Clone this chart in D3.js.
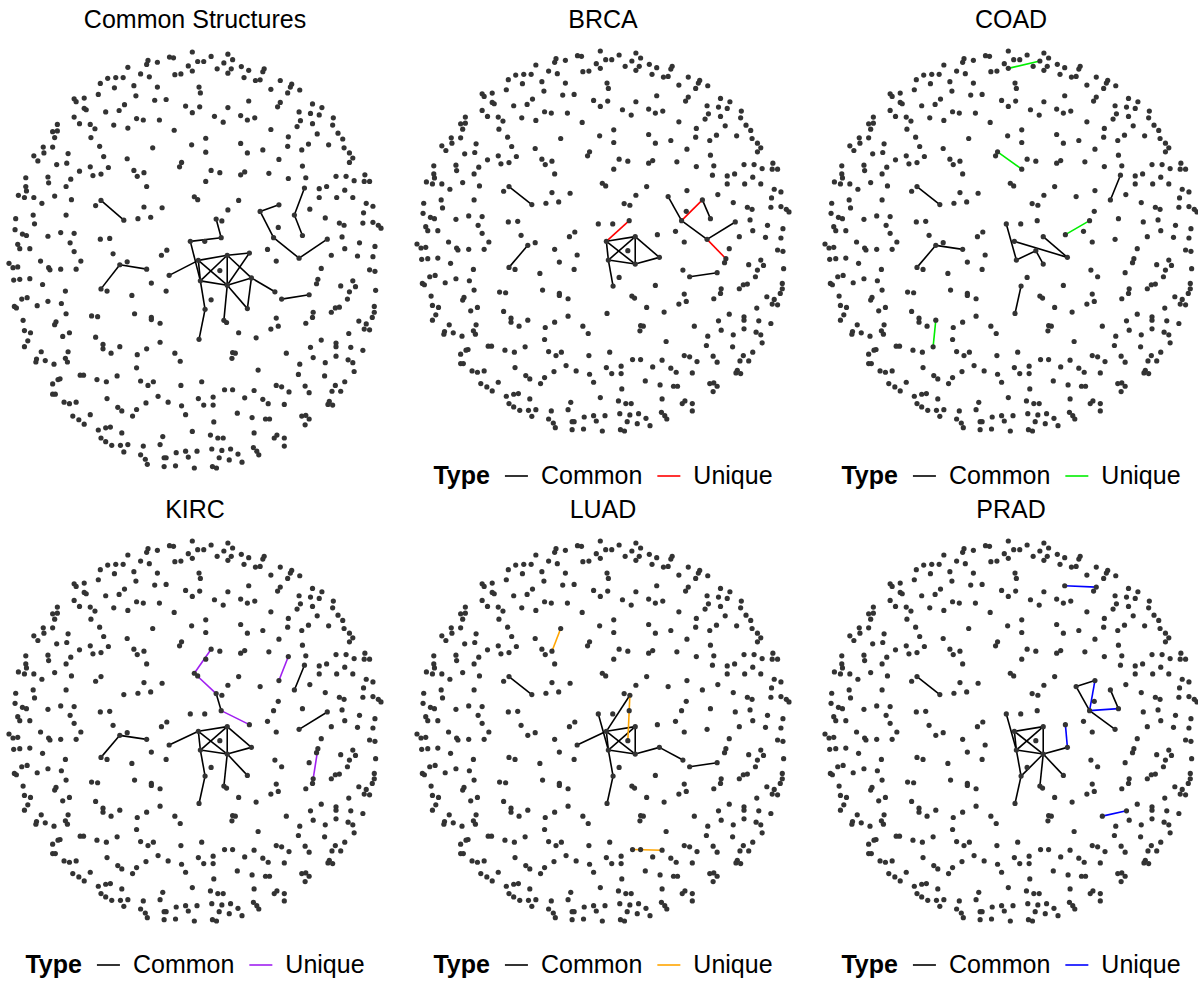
<!DOCTYPE html>
<html>
<head>
<meta charset="utf-8">
<script src="https://cdn.jsdelivr.net/npm/d3@7"></script>
<style>
  body { margin: 0; background: #fff; }
  text { font-family: "Liberation Sans", Arial, sans-serif; fill: #000; }
  .title { font-size: 25px; text-anchor: middle; }
  .legTitle { font-size: 25px; font-weight: bold; }
  .legText { font-size: 25px; }
</style>
</head>
<body>
<div id="chart"></div>
<script>
const width = 1198;
const height = 982;

// layout coordinates of every node (same layout in all panels)
const nodes = [
  [663,491],[680,496],[586,552],[629,552],[678,542],[610,604],[696,590],[762,584],[674,632],[616,660],
  [696,672],[768,652],[523,645],[630,738],[756,736],[612,820],[838,690],[858,710],[940,698],[686,768],
  [694,774],[850,452],[794,470],[834,542],[910,598],[994,546],[926,406],[896,480],[920,536],[848,514],
  [320,440],[388,494],[376,616],[320,682],[456,628],[592,86],[686,64],[560,336],[632,388],[376,840],
  [368,920],[760,168],[854,172],[872,858],[944,842],[966,656],
  [592,34],[524,48],[536,50],[460,57],[488,62],[626,60],[648,46],[698,40],[712,55],[456,68],[580,72],[608,60],
  [666,80],[708,80],[698,92],[738,74],[760,84],[806,80],[802,88],[400,76],[438,94],[464,102],[540,96],[558,94],
  [364,104],[340,106],[386,104],[318,120],[360,132],[418,126],[488,130],[746,104],[780,112],[794,110],[826,136],
  [854,112],[888,122],[884,130],[912,138],[876,146],[612,130],[616,146],[312,150],[424,154],[270,160],[240,162],
  [246,170],[480,166],[514,164],[846,184],[950,176],[978,186],[390,178],[572,182],[614,184],[592,200],[698,186],
  [270,188],[276,192],[334,198],[374,194],[240,212],[256,230],[288,232],[302,244],[358,234],[400,242],[426,216],
  [446,220],[494,220],[538,248],[658,210],[684,226],[736,208],[756,220],[778,214],[910,198],[944,202],[970,206],
  [1012,214],[904,238],[914,222],[950,230],[1010,234],[826,246],[190,232],[176,252],[190,250],[182,268],[964,258],
  [1026,256],[878,266],[876,292],[290,268],[632,270],[590,288],[474,296],[736,284],[802,302],[938,286],[918,302],
  [998,288],[1040,272],[1044,296],[1060,310],[1070,324],[1060,336],[148,294],[176,294],[222,312],[120,318],[150,310],
  [132,332],[188,342],[218,338],[316,292],[328,320],[288,348],[342,350],[320,368],[296,372],[256,360],[398,326],
  [418,358],[428,374],[448,364],[456,402],[554,348],[632,308],[756,310],[850,328],[920,346],[930,378],[648,358],
  [674,364],[736,370],[748,362],[820,366],[878,380],[1020,374],[1050,374],[1074,386],[1106,370],[1104,388],[1120,388],
  [96,378],[162,376],[164,392],[230,382],[216,402],[96,402],[98,414],[74,426],[92,432],[120,432],[182,428],[144,448],
  [232,438],[970,408],[992,402],[1046,412],[1070,432],[1022,432],[970,432],[1110,448],[1130,456],[304,454],[448,458],
  [502,460],[468,486],[430,490],[598,430],[608,438],[730,440],[698,466],[942,464],[988,488],[1030,502],[1044,508],
  [1102,474],[1100,502],[1130,500],[1146,508],[1154,516],[216,480],[66,490],[118,480],[122,504],[64,520],[86,532],
  [98,536],[162,538],[200,528],[240,530],[228,556],[72,560],[78,572],[108,572],[240,580],[318,546],[346,544],
  [356,586],[500,590],[516,576],[398,608],[470,666],[514,688],[412,700],[338,688],[816,574],[842,606],[1038,540],
  [1046,572],[1084,592],[1090,556],[1136,566],[1130,594],[1120,630],[1136,634],[976,626],[962,668],[1006,590],
  [1034,674],[1070,660],[1078,676],[1060,690],[1138,686],[1054,710],[1134,730],[1134,746],[1128,760],[1018,734],
  [1006,746],[1030,732],[952,746],[950,760],[930,776],[1088,770],[1110,778],[1104,792],[1120,794],[1058,804],
  [46,612],[58,624],[72,622],[140,606],[164,624],[168,630],[200,628],[246,628],[260,606],[60,658],[78,656],
  [108,654],[146,670],[214,688],[100,706],[84,710],[62,730],[68,734],[130,728],[162,716],[202,722],[216,750],
  [88,768],[186,772],[182,780],[92,796],[110,802],[206,812],[226,802],[102,824],[92,840],[142,854],[128,874],
  [126,882],[154,878],[180,888],[222,854],[214,872],[220,882],[292,756],[310,758],[304,814],[326,834],[326,846],
  [350,858],[420,750],[470,760],[470,766],[496,776],[496,828],[456,846],[428,862],[426,898],[540,858],[556,880],
  [648,712],[730,802],[782,816],[712,856],[720,858],[710,872],[842,762],[848,784],[826,792],[788,904],[912,888],
  [908,916],[952,870],[976,822],[988,884],[986,920],[1020,830],[1020,840],[1020,866],[1064,842],[1100,850],
  [1056,876],[1070,884],[1074,908],[258,918],[268,918],[308,930],[336,936],[438,934],[460,946],[476,936],[198,928],
  [192,930],[176,942],[176,970],[184,970],[210,992],[226,996],[246,992],[236,1030],[254,1040],[270,1052],[288,1026],
  [338,982],[370,1006],[382,1016],[414,1030],[426,1012],[454,994],[490,976],[520,992],[558,946],[620,936],[560,1002],
  [572,1026],[610,982],[626,1000],[654,978],[654,1000],[688,958],[712,958],[726,1022],[656,1046],[748,980],[770,1034],
  [776,960],[802,984],[818,996],[810,1038],[822,1038],[842,946],[858,950],[880,964],[866,998],[918,1030],[930,1028],
  [940,1038],[928,1054],[928,948],[940,966],[1000,990],[996,998],[1010,1000],[1018,946],[1008,962],[1034,962],
  [1046,936],[312,1068],[334,1062],[348,1060],[320,1090],[334,1100],[352,1110],[382,1076],[378,1110],[400,1108],
  [388,1128],[438,1136],[446,1112],[452,1148],[458,1162],[496,1108],[504,1086],[508,1144],[514,1144],[508,1168],
  [544,1130],[572,1126],[580,1142],[606,1126],[598,1172],[592,1072],[646,1082],[668,1090],[684,1090],[650,1120],
  [680,1124],[652,1168],[664,1172],[672,1144],[706,1120],[702,1150],[728,1134],[740,1156],[774,1116],[776,1076],
  [784,1126],[790,1136],[836,1090],[844,1082],[866,1090],[866,1112],[542,1166]
];

// edges, given by the layout coordinates of their two end nodes
const commonEdges = [
  [[663,491],[678,542]],[[586,552],[678,542]],[[586,552],[616,660]],[[610,604],[696,590]],[[696,590],[762,584]],
  [[610,604],[616,660]],[[610,604],[696,672]],[[696,590],[696,672]],[[696,590],[616,660]],[[762,584],[696,672]],
  [[696,590],[768,652]],[[616,660],[696,672]],[[696,672],[768,652]],[[523,645],[610,604]],[[696,672],[686,768]],
  [[616,660],[630,738]],[[630,738],[612,820]],[[696,672],[756,736]],[[768,652],[756,736]],[[768,652],[838,690]],
  [[858,710],[940,698]],[[850,452],[794,470]],[[794,470],[834,542]],[[834,542],[910,598]],[[910,598],[994,546]],
  [[926,406],[896,480]],[[896,480],[920,536]],[[320,440],[388,494]],[[376,616],[320,682]],[[376,616],[456,628]]
];
const brcaCommon = [
  [[320,440],[388,494]],[[376,616],[320,682]],[[610,604],[696,590]],[[610,604],[616,660]],[[696,590],[696,672]],
  [[616,660],[696,672]],[[610,604],[696,672]],[[696,590],[616,660]],[[696,590],[768,652]],[[696,672],[768,652]],
  [[616,660],[630,738]],[[794,470],[834,542]],[[834,542],[910,598]],[[896,480],[920,536]],[[910,598],[994,546]],
  [[858,710],[940,698]]
];
const brcaUnique = [[[610,604],[678,542]],[[834,542],[896,480]],[[910,598],[966,656]]];
const coadCommon = [
  [[320,440],[388,494]],[[376,616],[320,682]],[[376,616],[456,628]],[[586,552],[616,660]],[[610,604],[768,652]],
  [[616,660],[674,632]],[[674,632],[696,672]],[[696,590],[768,652]],[[630,738],[612,820]],[[926,406],[896,480]]
];
const coadUnique = [[[592,86],[686,64]],[[560,336],[632,388]],[[762,584],[834,542]],[[376,840],[368,920]]];
const kircCommon = [
  [[376,616],[320,682]],[[376,616],[456,628]],[[663,491],[678,542]],[[523,645],[610,604]],[[610,604],[696,590]],
  [[610,604],[616,660]],[[610,604],[696,672]],[[696,590],[696,672]],[[696,590],[616,660]],[[616,660],[696,672]],
  [[696,672],[768,652]],[[696,590],[768,652]],[[616,660],[630,738]],[[630,738],[612,820]],[[696,672],[686,768]],
  [[696,672],[756,736]],[[926,406],[896,480]],[[910,598],[994,546]]
];
const kircUnique = [[[648,358],[598,430]],[[598,430],[663,491]],[[678,542],[762,584]],[[878,380],[850,452]],
  [[966,656],[952,746]]];
const luadCommon = [
  [[320,440],[388,494]],[[586,552],[616,660]],[[610,604],[696,590]],[[610,604],[616,660]],[[696,590],[696,672]],
  [[610,604],[696,672]],[[696,590],[616,660]],[[616,660],[696,672]],[[696,672],[768,652]],[[616,660],[630,738]],
  [[630,738],[612,820]],[[768,652],[838,690]],[[858,710],[940,698]],[[523,645],[610,604]],[[680,496],[610,604]]
];
const luadUnique = [[[448,364],[474,296]],[[688,958],[776,960]],[[680,496],[674,632]]];
const pradCommon = [
  [[320,440],[388,494]],[[610,604],[696,590]],[[610,604],[616,660]],[[696,590],[696,672]],[[610,604],[696,672]],
  [[696,590],[616,660]],[[616,660],[696,672]],[[696,672],[768,652]],[[696,672],[756,736]],[[696,672],[686,768]],
  [[616,660],[630,738]],[[630,738],[612,820]],[[586,552],[616,660]],[[696,672],[630,738]],[[794,470],[850,452]],
  [[794,470],[834,542]],[[896,480],[920,536]],[[834,542],[910,598]]
];
const pradUnique = [[[760,168],[854,172]],[[850,452],[834,542]],[[834,542],[920,536]],[[762,584],[768,652]],
  [[872,858],[944,842]]];

const panelTitles = ["Common Structures", "BRCA", "COAD", "KIRC", "LUAD", "PRAD"];
const uniqueColors = [null, "#FF0000", "#00EE00", "#A020F0", "#FFA500", "#0000FF"];
const panelCommon = [commonEdges, brcaCommon, coadCommon, kircCommon, luadCommon, pradCommon];
const panelUnique = [[], brcaUnique, coadUnique, kircUnique, luadUnique, pradUnique];

const svg = d3.select("#chart").append("svg")
  .attr("width", width)
  .attr("height", height);

const xExt = d3.extent(nodes, d => d[0]);
const yExt = d3.extent(nodes, d => d[1]);

// snap an edge end to its node
const nodeAt = p => d3.least(nodes, n => (n[0]-p[0])**2 + (n[1]-p[1])**2);

panelTitles.forEach((title, i) => {
  const col = i % 3;
  const row = Math.floor(i / 3);
  const hasLegend = i > 0;

  const x = d3.scaleLinear().domain(xExt).range([9 + 408*col, 381 + 408*col]);
  let yRange;
  if (row == 1) yRange = [541, 921];
  else if (hasLegend) yRange = [51, 431];
  else yRange = [52, 468];
  const y = d3.scaleLinear().domain(yExt).range(yRange);

  const cx = 195 + 408*col;
  const g = svg.append("g").attr("class", "panel");

  g.append("text")
    .attr("class", "title")
    .attr("x", cx)
    .attr("y", row == 0 ? 28 : 518)
    .text(title);

  const drawEdges = (edges, color) => g.selectAll(null)
    .data(edges.map(e => [nodeAt(e[0]), nodeAt(e[1])]))
    .enter()
    .append("line")
    .attr("x1", d => x(d[0][0])).attr("y1", d => y(d[0][1]))
    .attr("x2", d => x(d[1][0])).attr("y2", d => y(d[1][1]))
    .attr("stroke", color)
    .attr("stroke-width", 1.6);

  drawEdges(panelCommon[i], "#000");
  drawEdges(panelUnique[i], uniqueColors[i]);

  g.selectAll("circle.node")
    .data(nodes)
    .enter()
    .append("circle")
    .attr("class", "node")
    .attr("cx", d => x(d[0]))
    .attr("cy", d => y(d[1]))
    .attr("r", 2.6)
    .style("fill", "#333");

  if (!hasLegend) return;

  // legend: Type  — Common  — Unique
  const ly = row == 0 ? 476 : 965;
  const leg = g.append("g");
  let pos = 0;
  const t1 = leg.append("text").attr("class", "legTitle").attr("x", pos).attr("y", ly + 8).text("Type");
  pos += t1.node().getComputedTextLength() + 15;
  leg.append("line").attr("x1", pos).attr("x2", pos + 23).attr("y1", ly).attr("y2", ly)
    .attr("stroke", "#000").attr("stroke-width", 1.6);
  pos += 23 + 13;
  const t2 = leg.append("text").attr("class", "legText").attr("x", pos).attr("y", ly + 8).text("Common");
  pos += t2.node().getComputedTextLength() + 15;
  leg.append("line").attr("x1", pos).attr("x2", pos + 23).attr("y1", ly).attr("y2", ly)
    .attr("stroke", uniqueColors[i]).attr("stroke-width", 1.6);
  pos += 23 + 13;
  const t3 = leg.append("text").attr("class", "legText").attr("x", pos).attr("y", ly + 8).text("Unique");
  pos += t3.node().getComputedTextLength();
  leg.attr("transform", `translate(${cx - pos/2},0)`);
});
</script>
</body>
</html>
